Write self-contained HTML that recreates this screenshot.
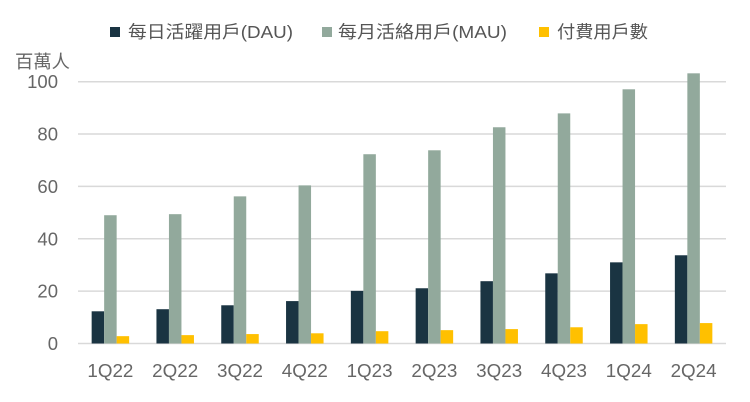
<!DOCTYPE html>
<html><head><meta charset="utf-8"><style>
body{margin:0;background:#fff}
svg{display:block;font-family:"Liberation Sans","Noto Sans CJK TC",sans-serif}
</style></head><body>
<svg id="chart" width="750" height="402" viewBox="0 0 750 402" xmlns="http://www.w3.org/2000/svg">
<g id="legend">
<g><rect x="110" y="27" width="10" height="10" fill="#1a3442"/><text x="128" y="38" font-size="17.5" fill="#555" textLength="165" lengthAdjust="spacingAndGlyphs">每日活躍用戶(DAU)</text></g>
<g><rect x="322" y="27" width="10" height="10" fill="#92a99c"/><text x="338" y="38" font-size="17.5" fill="#555" textLength="169" lengthAdjust="spacingAndGlyphs">每月活絡用戶(MAU)</text></g>
<g><rect x="539" y="27" width="10" height="10" fill="#ffc000"/><text x="557" y="38" font-size="17.5" fill="#555" textLength="91" lengthAdjust="spacingAndGlyphs">付費用戶數</text></g>
</g>
<text x="15" y="68" font-size="18" fill="#666" textLength="55" lengthAdjust="spacingAndGlyphs">百萬人</text>
<g id="grid"></g><g id="bars"></g><g id="xlabels"></g>
</svg>
<script>
const categories=["1Q22","2Q22","3Q22","4Q22","1Q23","2Q23","3Q23","4Q23","1Q24","2Q24"];
const dau=[12.3,13.1,14.6,16.2,20.1,21.1,23.8,26.8,31.0,33.7];
const mau=[49.0,49.4,56.2,60.4,72.3,73.8,82.6,87.9,97.1,103.2];
const paid=[2.8,3.2,3.6,3.9,4.7,5.1,5.5,6.2,7.4,7.8];
const yTicks=[0,20,40,60,80,100];
const NS="http://www.w3.org/2000/svg";
const x0=78,x1=726,y0=343.5,yTop=81.7;
const y=v=>y0-(v/100)*(y0-yTop);
const gw=(x1-x0)/categories.length, bw=12.5;
const grid=document.getElementById('grid'),bars=document.getElementById('bars'),xl=document.getElementById('xlabels');
function mk(t,a,p){const e=document.createElementNS(NS,t);for(const k in a)e.setAttribute(k,a[k]);p.appendChild(e);return e;}
yTicks.forEach(t=>{
 const l=mk('line',{x1:x0,x2:x1,y1:y(t),y2:y(t),stroke:'#d9d9d9','stroke-width':1.5},grid);
 
 
 const tx=mk('text',{x:58,y:y(t)+6.5,'text-anchor':'end','font-size':18.5,fill:'#666'},grid);
 tx.textContent=t;
 
 
});
const series=[[dau,'#1a3442','dau'],[mau,'#92a99c','mau'],[paid,'#ffc000','paid']];
categories.forEach((c,i)=>{
 const cx=x0+gw*(i+0.5);
 series.forEach(([arr,col,nm],j)=>{
  const v=arr[i];
  const r=mk('rect',{x:cx-1.5*bw+j*bw,y:y(v),width:bw,height:y0-y(v),fill:col},bars);
  
  
 });
 const t=mk('text',{x:cx,y:377,'text-anchor':'middle','font-size':18.5,fill:'#666',textLength:46,lengthAdjust:'spacingAndGlyphs'},xl);
 t.textContent=c;
 
 
});
</script>
</body></html>
